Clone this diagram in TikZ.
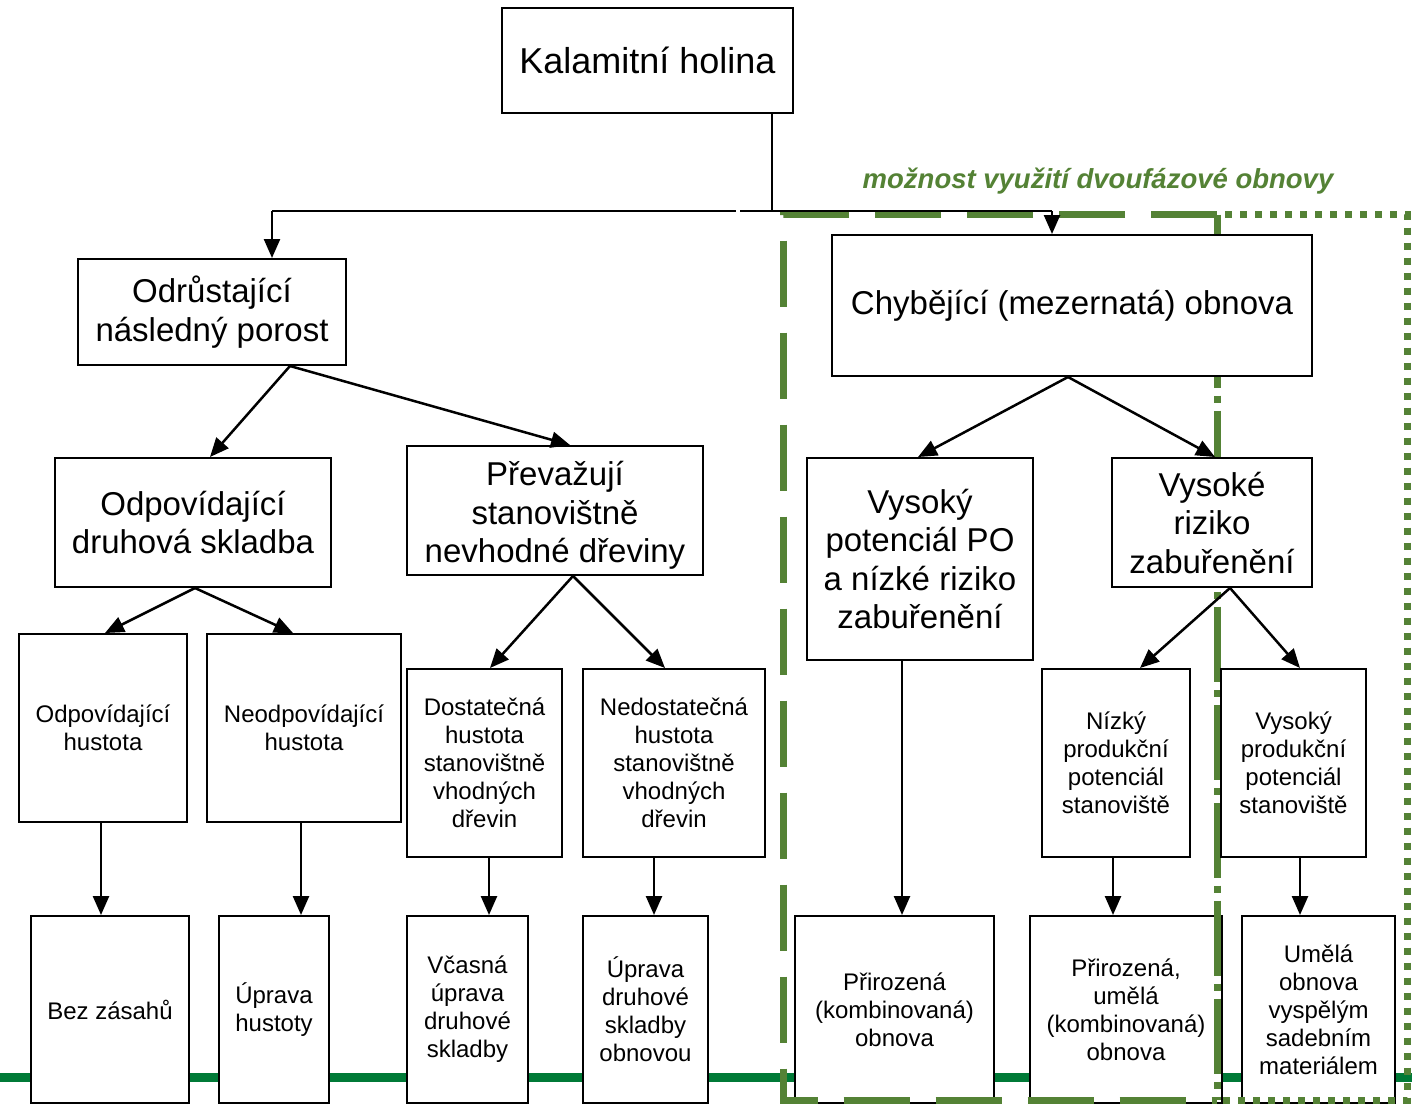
\documentclass[tikz,border=0pt]{standalone}
\usepackage{fontspec}
\setmainfont{Liberation Sans}
\usetikzlibrary{arrows.meta}
\definecolor{gbox}{RGB}{84,130,53}
\definecolor{gline}{RGB}{0,122,55}
\begin{document}
\begin{tikzpicture}[x=1pt,y=-1pt,
  box/.style={draw=black,line width=2pt,fill=white,inner sep=0pt,align=center},
  bigt/.style={font=\fontsize{33}{38.5}\selectfont},
  smallt/.style={font=\fontsize{24}{28}\selectfont},
  arr/.style={line width=2.5pt,-{Triangle[length=19pt,width=16pt]}},
  conn/.style={line width=2.5pt},
  gdashed/.style={draw=gbox,line width=7pt,dash pattern=on 66pt off 26pt},
  gdashdot/.style={draw=gbox,line width=7pt,dash pattern=on 75pt off 8pt on 7pt off 8pt},
  gdotted/.style={draw=gbox,line width=7pt,dash pattern=on 7pt off 8pt},
  bottombox/.style={box,smallt,minimum height=187pt}
]
\useasboundingbox (0,0) rectangle (1412,1104);
\fill[white] (0,0) rectangle (1412,1104);

% green horizontal line
\draw[gline,line width=9pt] (0,1077.5) -- (1412,1077.5);

% bottom boxes
\node[bottombox,minimum width=158pt] (N) at (110,1009.5) {Bez zásahů};
\node[bottombox,minimum width=110pt] (O) at (274,1009.5) {Úprava\\hustoty};
\node[bottombox,minimum width=121pt] (P) at (467.5,1009.5) {Včasná\\úprava\\druhové\\skladby};
\node[bottombox,minimum width=125pt] (Q) at (645.5,1009.5) {Úprava\\druhové\\skladby\\obnovou};
\node[bottombox,minimum width=199pt] (R) at (894.5,1009.5) {Přirozená\\(kombinovaná)\\obnova};
\node[bottombox,minimum width=192pt] (S) at (1126,1009.5) {Přirozená,\\umělá\\(kombinovaná)\\obnova};
\node[bottombox,minimum width=153pt] (T) at (1318.5,1009.5) {Umělá\\obnova\\vyspělým\\sadebním\\materiálem};

% green frames
\draw[gdashed] (1217,214.5) -- (783,214.5) -- (783,1100) -- (1217,1100);
\draw[gdashdot] (1217,214.5) -- (1217,1100);
\draw[gdotted] (1225,214.5) -- (1407,214.5) -- (1407,1100) -- (1221,1100);

% upper boxes
\node[box,minimum width=291pt,minimum height=105pt,font=\fontsize{36}{42}\selectfont] (A) at (647.5,60.5) {Kalamitní holina};
\node[box,bigt,minimum width=268pt,minimum height=106pt] (B) at (212,312) {Odrůstající\\následný porost};
\node[box,bigt,minimum width=480pt,minimum height=141pt] (C) at (1072,305.5) {Chybějící (mezernatá) obnova};
\node[box,bigt,minimum width=276pt,minimum height=129pt] (D) at (193,522.5) {Odpovídající\\druhová skladba};
\node[box,bigt,minimum width=296pt,minimum height=129pt] (E) at (555,510.5) {\\[-4pt]Převažují\\stanovištně\\nevhodné dřeviny};
\node[box,bigt,minimum width=226pt,minimum height=202pt] (F) at (920,559) {Vysoký\\potenciál PO\\a nízké riziko\\zabuřenění};
\node[box,bigt,minimum width=200pt,minimum height=129pt] (G) at (1212,522.5) {Vysoké\\riziko\\zabuřenění};
\node[box,smallt,minimum width=168pt,minimum height=188pt] (H) at (103,728) {Odpovídající\\hustota};
\node[box,smallt,minimum width=194pt,minimum height=188pt] (I) at (304,728) {Neodpovídající\\hustota};
\node[box,smallt,minimum width=155pt,minimum height=188pt] (J) at (484.5,763) {Dostatečná\\hustota\\stanovištně\\vhodných\\dřevin};
\node[box,smallt,minimum width=182pt,minimum height=188pt] (K) at (674,763) {Nedostatečná\\hustota\\stanovištně\\vhodných\\dřevin};
\node[box,smallt,minimum width=148pt,minimum height=188pt] (L) at (1116,763) {Nízký\\produkční\\potenciál\\stanoviště};
\node[box,smallt,minimum width=145pt,minimum height=188pt] (M) at (1293.5,763) {Vysoký\\produkční\\potenciál\\stanoviště};

% top distribution line
\coordinate (jM) at (772,211);
\coordinate (jL) at (272,211);
\coordinate (jR) at (1052,211);
\coordinate (g1) at (736,211);
\coordinate (g2) at (740,211);
\draw[conn] ([xshift=124.5pt]A.south) -- (jM);
\draw[conn] (jL) -- (g1);
\draw[conn] (g2) -- (jR);
\draw[arr] (jL) -- ([xshift=60pt]B.north);
\draw[arr] (jR) -- ([xshift=-20pt]C.north);

% diagonal arrows
\draw[arr] ([xshift=78pt]B.south) -- ([xshift=17pt]D.north);
\draw[arr] ([xshift=78pt]B.south) -- ([xshift=15pt]E.north);
\draw[arr] ([xshift=2pt]D.south) -- ([xshift=2pt]H.north);
\draw[arr] ([xshift=2pt]D.south) -- ([xshift=-11pt]I.north);
\draw[arr] ([xshift=18pt]E.south) -- ([xshift=5.5pt]J.north);
\draw[arr] ([xshift=18pt]E.south) -- ([xshift=-9pt]K.north);
\draw[arr] ([xshift=-4pt]C.south) -- ([xshift=-2pt]F.north);
\draw[arr] ([xshift=-4pt]C.south) -- ([xshift=3pt]G.north);
\draw[arr] ([xshift=18pt]G.south) -- ([xshift=24pt]L.north);
\draw[arr] ([xshift=18pt]G.south) -- ([xshift=6.5pt]M.north);

% vertical arrows
\draw[arr] ([xshift=-2pt]H.south) -- ([xshift=-9pt]N.north);
\draw[arr] ([xshift=-3pt]I.south) -- ([xshift=27pt]O.north);
\draw[arr] ([xshift=4.5pt]J.south) -- ([xshift=21.5pt]P.north);
\draw[arr] ([xshift=-20pt]K.south) -- ([xshift=8.5pt]Q.north);
\draw[arr] ([xshift=-18pt]F.south) -- ([xshift=7.5pt]R.north);
\draw[arr] ([xshift=-3pt]L.south) -- ([xshift=-13pt]S.north);
\draw[arr] ([xshift=6.5pt]M.south) -- ([xshift=-18.5pt]T.north);

% label
\node[font=\fontsize{27.5}{31}\selectfont\bfseries\itshape,text=gbox] (lbl) at (1098,181) {možnost využití dvoufázové obnovy};
\end{tikzpicture}
\end{document}
